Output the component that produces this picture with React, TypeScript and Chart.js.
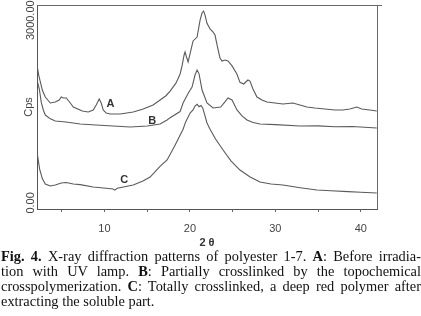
import React, { useEffect, useRef } from 'react';
import { Chart, registerables } from 'chart.js';

Chart.register(...registerables);

// 2θ (deg), intensity (Cps)
const seriesA: [number, number][] = [
  [2.14, 2232], [2.3, 2100], [2.72, 1854], [3.07, 1739], [3.66, 1641], [4.24, 1657], [4.7, 1690],
  [4.94, 1739], [5.18, 1723], [5.53, 1723], [6.0, 1641], [6.35, 1575], [7.4, 1509], [8.1, 1493],
  [8.68, 1526], [9.03, 1608], [9.38, 1706], [9.62, 1641], [9.85, 1526], [10.2, 1476], [10.67, 1460],
  [11.84, 1460], [13.36, 1493], [14.53, 1542], [15.69, 1608], [16.51, 1690], [17.2, 1760], [17.68, 1837],
  [18.38, 1970], [18.85, 2117], [19.08, 2250], [19.32, 2429], [19.43, 2478], [19.6, 2396], [19.79, 2314],
  [20.02, 2450], [20.37, 2660], [20.84, 2724], [21.19, 3003], [21.42, 3118], [21.6, 3151], [21.77, 3085],
  [22.0, 2950], [22.36, 2856], [22.71, 2806], [22.94, 2757], [23.17, 2600], [23.52, 2380], [23.76, 2330],
  [24.11, 2347], [24.46, 2330], [24.93, 2250], [25.5, 2117], [25.86, 1980], [26.3, 1953], [26.79, 2018],
  [27.03, 2000], [27.38, 1870], [27.85, 1739], [28.43, 1690], [29.02, 1657], [29.95, 1641], [30.89, 1624],
  [32.06, 1641], [32.87, 1608], [33.69, 1575], [34.63, 1558], [35.8, 1542], [36.96, 1526], [37.9, 1526],
  [38.72, 1542], [39.53, 1575], [40.12, 1542], [41.05, 1526], [41.87, 1509],
];

const seriesB: [number, number][] = [
  [2.14, 2000], [2.37, 1870], [2.6, 1650], [2.84, 1526], [3.07, 1443], [3.66, 1380], [4.24, 1345],
  [5.5, 1329], [7.16, 1296], [9.0, 1279], [11.0, 1263], [13.0, 1246], [15.0, 1263], [16.5, 1296],
  [17.33, 1361], [17.68, 1400], [18.85, 1500], [19.2, 1641], [19.8, 1800], [20.25, 1903], [20.6, 2100],
  [20.84, 2182], [21.07, 2120], [21.42, 1854], [22.0, 1641], [22.71, 1558], [23.6, 1575], [24.1, 1660],
  [24.46, 1723], [24.93, 1690], [25.51, 1526], [26.1, 1430], [26.68, 1361], [27.4, 1320], [28.2, 1296],
  [30.0, 1285], [32.87, 1263], [35.0, 1265], [37.0, 1250], [39.0, 1255], [41.87, 1230],
];

const seriesC: [number, number][] = [
  [2.14, 800], [2.4, 560], [2.72, 400], [3.07, 310], [3.66, 278], [4.24, 294], [4.94, 327], [5.5, 335],
  [6.35, 310], [7.16, 300], [8.68, 261], [10.2, 240], [11.0, 228], [11.2, 210], [11.5, 240], [13.36, 294],
  [14.5, 360], [15.34, 425], [16.5, 600], [17.33, 705], [18.2, 930], [19.2, 1210], [19.5, 1330],
  [20.02, 1476], [20.37, 1526], [20.6, 1590], [20.84, 1620], [21.07, 1580], [21.3, 1600], [21.5, 1560],
  [22.0, 1312], [22.36, 1210], [23.0, 1050], [23.88, 869], [24.8, 690], [25.86, 540], [27.0, 430],
  [28.2, 343], [29.5, 310], [30.89, 294], [32.9, 250], [34.86, 212], [36.5, 200], [38.5, 185],
  [40.0, 175], [41.87, 163],
];

const xTickValues = [5, 10, 15, 20, 25, 30, 35, 40];
const yTickValues = [0, 3000];
const curveNames = ['A', 'B', 'C'];
const curveLabelX = [10.7, 15.6, 12.3];
const curveLabelY = [1624, 1345, 376];
const xAxisTitle = '2 θ';
const yAxisTitle = 'Cps';

const captionLines: [string, boolean][][] = [
  [['Fig. 4.', true], [' X-ray diffraction patterns of polyester 1-7. ', false], ['A', true], [': Before irradia-', false]],
  [['tion with UV lamp. ', false], ['B', true], [': Partially crosslinked by the topochemical', false]],
  [['crosspolymerization. ', false], ['C', true], [': Totally crosslinked, a deep red polymer after', false]],
  [['extracting the soluble part.', false]],
];

export default function App() {
  const ref = useRef<HTMLCanvasElement>(null);

  useEffect(() => {
    const canvas = ref.current;
    if (!canvas) return;
    const lineColor = '#5a5a5a';
    const mk = (pts: [number, number][]) => ({
      data: pts.map(([x, y]) => ({ x, y })),
      borderColor: lineColor,
      borderWidth: 1.1,
      pointRadius: 0,
      fill: false,
      tension: 0,
    });

    const framePlugin = {
      id: 'frame',
      afterDraw(chart: any) {
        const { ctx, chartArea } = chart;
        const { left, top, right, bottom } = chartArea;
        ctx.save();
        ctx.strokeStyle = '#6a6a6a';
        ctx.lineWidth = 1;
        ctx.beginPath();
        ctx.moveTo(left, top + 0.5);
        ctx.lineTo(right + 5, top + 0.5);
        ctx.moveTo(right + 0.5, top);
        ctx.lineTo(right + 0.5, bottom);
        ctx.stroke();
        ctx.restore();
      },
    };

    const labelPlugin = {
      id: 'curveLabels',
      afterDatasetsDraw(chart: any) {
        const { ctx, scales } = chart;
        ctx.save();
        ctx.fillStyle = '#333';
        ctx.font = 'bold 11px "Liberation Sans", Arial, sans-serif';
        ctx.textAlign = 'center';
        ctx.textBaseline = 'middle';
        curveNames.forEach((n, i) => {
          ctx.fillText(n, scales.x.getPixelForValue(curveLabelX[i]), scales.y.getPixelForValue(curveLabelY[i]));
        });
        ctx.restore();
      },
    };

    const font = { family: '"Liberation Sans", Arial, sans-serif', size: 11 };

    const chart = new Chart(canvas, {
      type: 'line',
      data: { datasets: [mk(seriesA), mk(seriesB), mk(seriesC)] as any },
      options: {
        animation: false,
        responsive: false,
        maintainAspectRatio: false,
        layout: { padding: { left: 0, right: 44, top: 5, bottom: 0 } },
        plugins: { legend: { display: false }, tooltip: { enabled: false } },
        scales: {
          x: {
            type: 'linear',
            min: 2.1,
            max: 41.9,
            afterBuildTicks: (s: any) => { s.ticks = xTickValues.map((v) => ({ value: v })); },
            afterFit: (s: any) => { s.height = 41; },
            grid: { display: true, drawOnChartArea: false, drawTicks: true, tickLength: 3, color: '#666' },
            border: { display: true, color: '#555', width: 1 },
            ticks: {
              font,
              color: '#444',
              padding: 10,
              maxRotation: 0,
              autoSkip: false,
              callback: (v: any) => (Number(v) % 10 === 0 ? String(v) : ''),
            },
            title: {
              display: true,
              text: xAxisTitle,
              font: { ...font, weight: 'bold' },
              color: '#333',
              padding: { top: 0, bottom: 0 },
            },
          },
          y: {
            type: 'linear',
            min: -100,
            max: 3250,
            afterBuildTicks: (s: any) => { s.ticks = yTickValues.map((v) => ({ value: v })); },
            afterFit: (s: any) => { s.width = 37; },
            grid: { display: false, drawTicks: false },
            border: { display: true, color: '#555', width: 1 },
            ticks: {
              font,
              color: '#444',
              minRotation: 90,
              maxRotation: 90,
              crossAlign: 'center',
              padding: -14,
              autoSkip: false,
              callback: (v: any) => Number(v).toFixed(2),
            },
            title: {
              display: true,
              text: yAxisTitle,
              font,
              color: '#444',
              padding: { top: 22, bottom: 0 },
            },
          },
        },
      } as any,
      plugins: [framePlugin, labelPlugin],
    });
    return () => chart.destroy();
  }, []);

  return (
    <div style={{ position: 'fixed', left: 0, top: 0, width: 421, height: 316, background: '#fff', overflow: 'hidden' }}>
      <canvas ref={ref} width={421} height={250} style={{ display: 'block', width: 421, height: 250 }} />
      <div
        style={{
          position: 'absolute',
          left: 1,
          top: 249,
          width: 420,
          fontFamily: '"Liberation Serif", "Times New Roman", serif',
          fontSize: 14.4,
          lineHeight: '15px',
          color: '#111',
        }}
      >
        {captionLines.map((line, i) => (
          <div
            key={i}
            style={{
              whiteSpace: 'nowrap',
              textAlign: i < captionLines.length - 1 ? 'justify' : 'left',
              textAlignLast: i < captionLines.length - 1 ? 'justify' : 'left',
            }}
          >
            {line.map(([t, b], j) => (b ? <b key={j}>{t}</b> : <span key={j}>{t}</span>))}
          </div>
        ))}
      </div>
    </div>
  );
}
